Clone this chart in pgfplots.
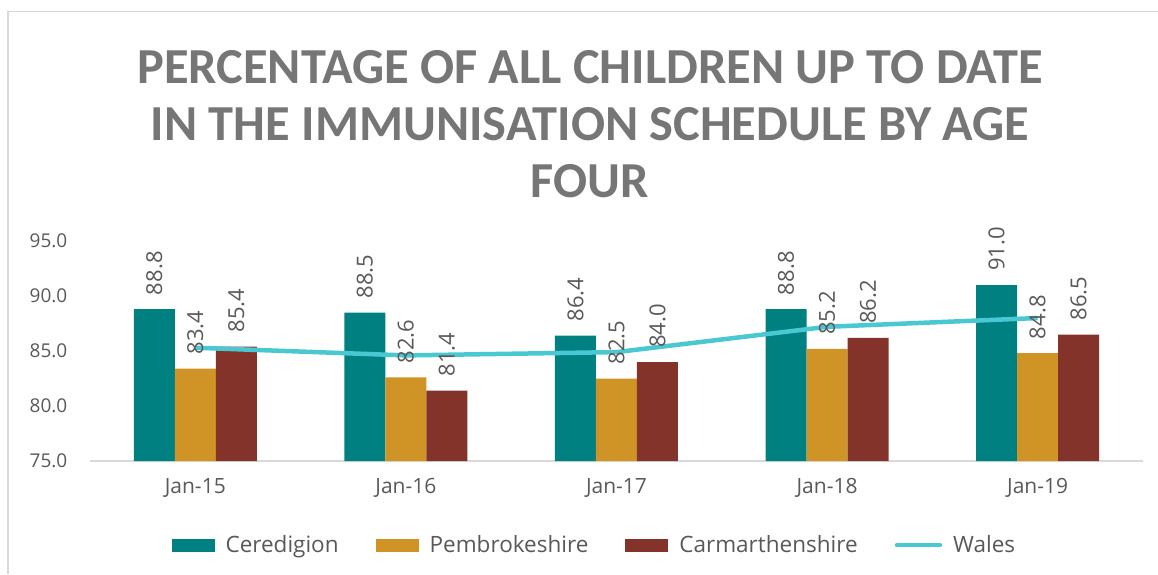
\documentclass[border=0pt]{standalone}
\usepackage{pgfplots}
\pgfplotsset{compat=1.18}
\usepackage{fontspec}
\setmainfont{Open Sans}
\newfontfamily\titlefont{Carlito}
\definecolor{cered}{RGB}{0,128,128}
\definecolor{pemb}{RGB}{208,148,38}
\definecolor{carm}{RGB}{132,51,42}
\definecolor{wales}{RGB}{74,200,210}
\definecolor{txt}{RGB}{89,89,89}
\definecolor{ttl}{RGB}{118,118,118}
\definecolor{axgray}{RGB}{217,217,217}
\pgfkeys{/pgf/number format/assume math mode=true}
\pgfplotsset{
  vallabels/.style={
    nodes near coords={\pgfmathprintnumber[fixed,fixed zerofill,precision=1]{\pgfplotspointmeta}},
    every node near coord/.append style={rotate=90, anchor=west, inner sep=14pt,
      font=\fontsize{22}{26}\selectfont, text=txt}},
  swatch/.style={area legend, legend image code/.code={\fill[#1] (0pt,-6.5pt) rectangle (43pt,6.5pt);}},
}
\begin{document}
\begin{tikzpicture}
\path[use as bounding box] (0pt,0pt) rectangle (1158pt,-574pt);
% chart frame
\draw[axgray, line width=2pt] (8pt,-574pt) -- (8pt,-11pt);
\draw[axgray, line width=1.2pt] (7pt,-11.5pt) -- (1158pt,-11.5pt);
\begin{axis}[
at={(90pt,-461pt)}, anchor=south west,
scale only axis, width=1053pt, height=220pt,
xmin=-0.5, xmax=4.5, ymin=75, ymax=95,
ybar=0pt, bar width=41pt,
axis x line=bottom, axis y line=left,
x axis line style={-, draw=axgray, line width=1.5pt},
y axis line style={draw=none},
xtick={0,1,2,3,4},
xticklabels={Jan-15,Jan-16,Jan-17,Jan-18,Jan-19},
xtick style={draw=none},
extra x ticks={-0.5,0.5,1.5,2.5,3.5,4.5},
extra x tick labels={},
extra x tick style={major tick length=7pt, tick align=outside, tick style={draw=axgray, line width=1.5pt}},
ytick={75,80,85,90,95},
ytick style={draw=none},
yticklabel style={/pgf/number format/fixed, /pgf/number format/fixed zerofill, /pgf/number format/precision=1},
yticklabel style={font=\fontsize{19}{23}\selectfont, text=txt, xshift=-17pt},
xticklabel style={font=\fontsize{21}{25}\selectfont, text=txt, yshift=-12pt},
legend style={at={(0.479,-0.382)}, anchor=center, draw=none, fill=none, legend columns=4,
  font=\fontsize{22.5}{26}\selectfont, text=txt,
  /tikz/every odd column/.append style={column sep=9pt},
  /tikz/every even column/.append style={column sep=35pt}},
clip=false,
]
\addplot[fill=cered, draw=none, vallabels, swatch=cered]
  coordinates {(0,88.8) (1,88.5) (2,86.4) (3,88.8) (4,91.0)};
\addlegendentry{Ceredigion}
\addplot[fill=pemb, draw=none, vallabels, swatch=pemb]
  coordinates {(0,83.4) (1,82.6) (2,82.5) (3,85.2) (4,84.8)};
\addlegendentry{Pembrokeshire}
\addplot[fill=carm, draw=none, vallabels, swatch=carm]
  coordinates {(0,85.4) (1,81.4) (2,84.0) (3,86.2) (4,86.5)};
\addlegendentry{Carmarthenshire}
\addplot[sharp plot, draw=wales, line width=4.5pt, no marks,
  legend image code/.code={\draw[wales, line width=4.5pt, line cap=round] (0pt,0pt) -- (43pt,0pt);}]
  coordinates {(0,85.3) (1,84.6) (2,84.9) (3,87.2) (4,88.0)};
\addlegendentry{Wales}
\end{axis}
\node[align=center, font=\titlefont\bfseries\fontsize{50.4}{57}\selectfont, text=ttl] at (590pt,-124pt)
  {PERCENTAGE OF ALL CHILDREN UP TO DATE\\IN THE IMMUNISATION SCHEDULE BY AGE\\FOUR};
\end{tikzpicture}
\end{document}
